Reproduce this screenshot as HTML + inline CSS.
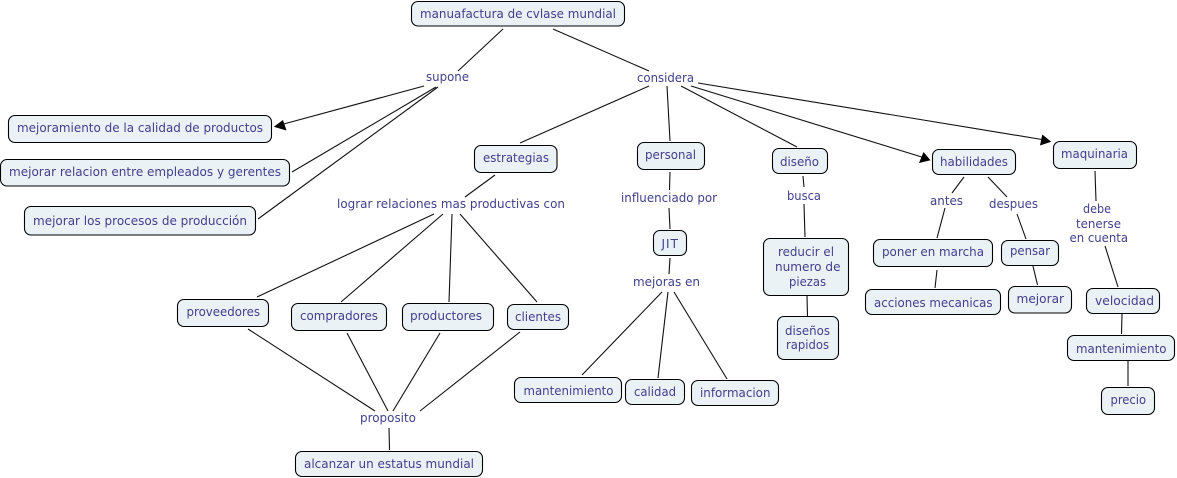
<!DOCTYPE html>
<html><head><meta charset="utf-8"><style>
html,body{margin:0;padding:0;background:#fff}
svg{display:block}
text{font-family:"DejaVu Sans","Liberation Sans",sans-serif;font-size:12px;fill:#40408c}
.n rect{fill:#ebf2f6;stroke:#000;stroke-width:1.1}
.l line{stroke:#111;stroke-width:1.1}
</style></head><body>
<svg width="1177" height="478" viewBox="0 0 1177 478" xmlns="http://www.w3.org/2000/svg">
<g class="l">
<line x1="503" y1="29" x2="458" y2="71"/>
<line x1="553" y1="29" x2="649" y2="71"/>
<line x1="424" y1="86" x2="280" y2="125"/>
<line x1="436" y1="87" x2="292" y2="172"/>
<line x1="438" y1="87" x2="258" y2="219"/>
<line x1="649" y1="86" x2="520" y2="143"/>
<line x1="667" y1="86" x2="670" y2="141"/>
<line x1="681" y1="86" x2="797" y2="147"/>
<line x1="691" y1="86" x2="925" y2="158"/>
<line x1="698" y1="83" x2="1045" y2="140"/>
<line x1="495" y1="175" x2="465" y2="197"/>
<line x1="434" y1="214" x2="257" y2="297"/>
<line x1="443" y1="214" x2="341" y2="302"/>
<line x1="452" y1="214" x2="449" y2="302"/>
<line x1="460" y1="214" x2="537" y2="302"/>
<line x1="248" y1="329" x2="375" y2="411"/>
<line x1="347" y1="333" x2="388" y2="411"/>
<line x1="440" y1="333" x2="393" y2="411"/>
<line x1="520" y1="332" x2="420" y2="411"/>
<line x1="389" y1="428" x2="389.5" y2="450"/>
<line x1="670" y1="172" x2="669.5" y2="190"/>
<line x1="669" y1="208" x2="670" y2="229"/>
<line x1="670" y1="258" x2="669" y2="274"/>
<line x1="662" y1="292" x2="582" y2="375"/>
<line x1="668" y1="292" x2="658" y2="378"/>
<line x1="674" y1="292" x2="727" y2="379"/>
<line x1="803" y1="176" x2="804" y2="187"/>
<line x1="804" y1="204" x2="805" y2="237"/>
<line x1="807" y1="296" x2="807.5" y2="316"/>
<line x1="964" y1="177" x2="952" y2="193"/>
<line x1="945" y1="208" x2="937" y2="238"/>
<line x1="988" y1="177" x2="1007" y2="197"/>
<line x1="1017" y1="214" x2="1026" y2="239"/>
<line x1="937" y1="270" x2="935" y2="288"/>
<line x1="1033" y1="266" x2="1037.5" y2="285"/>
<line x1="1095" y1="171" x2="1096" y2="201"/>
<line x1="1105" y1="246" x2="1118" y2="287"/>
<line x1="1122" y1="314" x2="1121.5" y2="334"/>
<line x1="1128" y1="361" x2="1128" y2="386"/>
</g>
<polygon points="273.8,126.8 283,120 286.5,130.5" fill="#000"/>
<polygon points="930.5,160.3 923.5,152 919,163" fill="#000"/>
<polygon points="1051.2,141.8 1042.3,134.5 1040,145.5" fill="#000"/>
<g class="n">
<rect x="411.5" y="1.5" width="213" height="24.5" rx="6.5"/>
<rect x="8.5" y="115.5" width="263" height="27" rx="6.5"/>
<rect x="0.5" y="159.5" width="289" height="26.5" rx="6.5"/>
<rect x="24.5" y="206.5" width="231" height="28.5" rx="6.5"/>
<rect x="474.5" y="145.5" width="82.5" height="27" rx="6.5"/>
<rect x="637.5" y="142.5" width="67" height="27" rx="6.5"/>
<rect x="772.5" y="148.5" width="55" height="25" rx="6.5"/>
<rect x="932.5" y="149.5" width="83" height="25" rx="6.5"/>
<rect x="1053.5" y="141.5" width="83" height="27" rx="6.5"/>
<rect x="873.5" y="239.5" width="119" height="27" rx="6.5"/>
<rect x="1001.5" y="240.5" width="57" height="25" rx="6.5"/>
<rect x="865.5" y="289.5" width="135" height="25" rx="6.5"/>
<rect x="1008.5" y="286.5" width="63" height="26.5" rx="6.5"/>
<rect x="1086.5" y="288.5" width="73" height="25" rx="6.5"/>
<rect x="1067.5" y="335.5" width="107" height="25" rx="6.5"/>
<rect x="1101.5" y="387.5" width="53" height="27" rx="6.5"/>
<rect x="763.5" y="238.5" width="85" height="57" rx="6.5"/>
<rect x="777.5" y="316.5" width="61" height="43" rx="6.5"/>
<rect x="653.5" y="230.5" width="33" height="25" rx="6.5"/>
<rect x="514.5" y="377.5" width="107" height="25" rx="6.5"/>
<rect x="625.5" y="379.5" width="59" height="25" rx="6.5"/>
<rect x="691.5" y="380.5" width="87" height="25" rx="6.5"/>
<rect x="507.5" y="304.5" width="61" height="25" rx="6.5"/>
<rect x="177.5" y="299.5" width="91" height="27" rx="6.5"/>
<rect x="291.5" y="303.5" width="95" height="27" rx="6.5"/>
<rect x="402.5" y="303.5" width="91" height="27" rx="6.5"/>
<rect x="295.5" y="451.5" width="187" height="25" rx="6.5"/>
</g>
<g>
<text x="420" y="18" textLength="196" lengthAdjust="spacingAndGlyphs">manuafactura de cvlase mundial</text>
<text x="17" y="132" textLength="246" lengthAdjust="spacingAndGlyphs">mejoramiento de la calidad de productos</text>
<text x="9" y="176" textLength="272" lengthAdjust="spacingAndGlyphs">mejorar relacion entre empleados y gerentes</text>
<text x="33" y="225" textLength="214" lengthAdjust="spacingAndGlyphs">mejorar los procesos de producción</text>
<text x="483" y="162" textLength="66" lengthAdjust="spacingAndGlyphs">estrategias</text>
<text x="645" y="159" textLength="51" lengthAdjust="spacingAndGlyphs">personal</text>
<text x="780" y="166" textLength="39" lengthAdjust="spacingAndGlyphs">diseño</text>
<text x="940" y="166" textLength="68" lengthAdjust="spacingAndGlyphs">habilidades</text>
<text x="1061" y="158" textLength="67" lengthAdjust="spacingAndGlyphs">maquinaria</text>
<text x="882" y="256" textLength="102" lengthAdjust="spacingAndGlyphs">poner en marcha</text>
<text x="1010" y="255" textLength="40" lengthAdjust="spacingAndGlyphs">pensar</text>
<text x="874" y="307" textLength="118.5" lengthAdjust="spacingAndGlyphs">acciones mecanicas</text>
<text x="1016.5" y="303" textLength="47.5" lengthAdjust="spacingAndGlyphs">mejorar</text>
<text x="1095" y="305" textLength="59" lengthAdjust="spacingAndGlyphs">velocidad</text>
<text x="1076" y="353" textLength="90.5" lengthAdjust="spacingAndGlyphs">mantenimiento</text>
<text x="1110.5" y="404" textLength="35.5" lengthAdjust="spacingAndGlyphs">precio</text>
<text x="778" y="256" textLength="56" lengthAdjust="spacingAndGlyphs">reducir el</text>
<text x="775" y="271" textLength="65.5" lengthAdjust="spacingAndGlyphs">numero de</text>
<text x="789" y="286" textLength="37" lengthAdjust="spacingAndGlyphs">piezas</text>
<text x="785" y="335" textLength="45" lengthAdjust="spacingAndGlyphs">diseños</text>
<text x="786" y="349" textLength="43" lengthAdjust="spacingAndGlyphs">rapidos</text>
<text x="661.5" y="248" letter-spacing="1">JIT</text>
<text x="523.5" y="395" textLength="90" lengthAdjust="spacingAndGlyphs">mantenimiento</text>
<text x="634" y="396" textLength="42" lengthAdjust="spacingAndGlyphs">calidad</text>
<text x="700" y="397" textLength="70.5" lengthAdjust="spacingAndGlyphs">informacion</text>
<text x="515" y="321" textLength="46" lengthAdjust="spacingAndGlyphs">clientes</text>
<text x="186.5" y="316" textLength="73.5" lengthAdjust="spacingAndGlyphs">proveedores</text>
<text x="300" y="320" textLength="78" lengthAdjust="spacingAndGlyphs">compradores</text>
<text x="410" y="320" textLength="72" lengthAdjust="spacingAndGlyphs">productores</text>
<text x="304" y="468" textLength="170" lengthAdjust="spacingAndGlyphs">alcanzar un estatus mundial</text>
<text x="426" y="81" textLength="43" lengthAdjust="spacingAndGlyphs">supone</text>
<text x="637" y="82" textLength="57" lengthAdjust="spacingAndGlyphs">considera</text>
<text x="337" y="208" textLength="228" lengthAdjust="spacingAndGlyphs">lograr relaciones mas productivas con</text>
<text x="621" y="202" textLength="96" lengthAdjust="spacingAndGlyphs">influenciado por</text>
<text x="633" y="286" textLength="67" lengthAdjust="spacingAndGlyphs">mejoras en</text>
<text x="787" y="200" textLength="34" lengthAdjust="spacingAndGlyphs">busca</text>
<text x="930" y="205" textLength="33" lengthAdjust="spacingAndGlyphs">antes</text>
<text x="989" y="208" textLength="49" lengthAdjust="spacingAndGlyphs">despues</text>
<text x="1083" y="213" textLength="28" lengthAdjust="spacingAndGlyphs">debe</text>
<text x="1076" y="228" textLength="45" lengthAdjust="spacingAndGlyphs">tenerse</text>
<text x="1069.5" y="242" textLength="58.5" lengthAdjust="spacingAndGlyphs">en cuenta</text>
<text x="360" y="422" textLength="56" lengthAdjust="spacingAndGlyphs">proposito</text>
</g>
</svg>
</body></html>
